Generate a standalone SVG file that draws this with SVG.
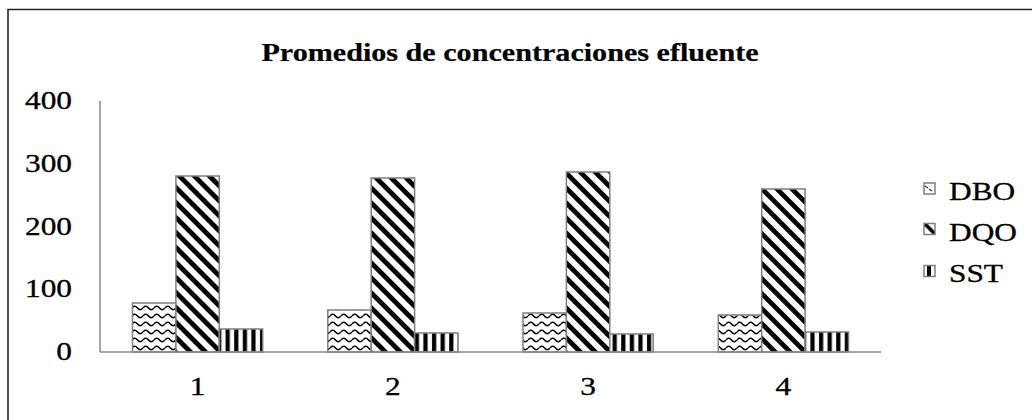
<svg xmlns="http://www.w3.org/2000/svg" width="1032" height="420" viewBox="0 0 1032 420">
  <style>
    text { font-family: 'Liberation Serif', 'Times New Roman', Times, serif; font-size: 24.5px; fill: #000; stroke: #000; stroke-width: 0.3; }
    .title { font-weight: bold; stroke-width: 0.2; }
    .bar { stroke: #7f7f7f; stroke-width: 1.5; }
    .axis { stroke: #888; stroke-width: 1.5; fill: none; }
    .sw { stroke: #7f7f7f; stroke-width: 1.5; }
  </style>
  <defs>
    <pattern id="pWave" patternUnits="userSpaceOnUse" width="11" height="8">
      <rect width="11" height="8" fill="#fff"/>
      <path d="M0,4 Q2.75,0.6 5.5,4 T11,4" stroke="#000" stroke-width="1.5" fill="none"/>
    </pattern>
    <pattern id="pDiag" patternUnits="userSpaceOnUse" width="10.6" height="10.6" patternTransform="rotate(-45)">
      <rect width="10.6" height="10.6" fill="#fff"/>
      <rect x="0" y="0" width="4.8" height="10.6" fill="#000"/>
    </pattern>
    <pattern id="pVert" patternUnits="userSpaceOnUse" width="8.6" height="10">
      <rect width="8.6" height="10" fill="#fff"/>
      <rect x="2" y="0" width="4.2" height="10" fill="#000"/>
    </pattern>
    <pattern id="sWave" patternUnits="userSpaceOnUse" width="11" height="11" x="924" y="183">
      <rect width="11" height="11" fill="#fff"/>
      <path d="M1,3 L4,5 M5,6 L8,8" stroke="#333" stroke-width="1.2"/>
    </pattern>
    <pattern id="sDiag" patternUnits="userSpaceOnUse" width="11" height="11" x="924" y="223.5">
      <rect width="11" height="11" fill="#fff"/>
      <path d="M0,2 L9,11 L11,11 L11,8 L3,0 L0,0 Z" fill="#000"/>
    </pattern>
    <pattern id="sVert" patternUnits="userSpaceOnUse" width="11" height="11" x="924" y="265.5">
      <rect width="11" height="11" fill="#fff"/>
      <rect x="3" y="0" width="4" height="11" fill="#000"/>
    </pattern>
  </defs>

  <rect x="0" y="0" width="1032" height="420" fill="#fff"/>

  <g id="frame">
    <path d="M8,420 L8,9.5 L1032,9.5" stroke="#262626" stroke-width="1.6" fill="none"/>
  </g>

  <g id="title">
    <text class="title" text-anchor="middle" transform="translate(510,61) scale(1.23,1.04)">Promedios de concentraciones efluente</text>
  </g>

  <g id="y-axis-labels" text-anchor="end">
    <text transform="translate(72,109) scale(1.28,1)">400</text>
    <text transform="translate(72,172) scale(1.28,1)">300</text>
    <text transform="translate(72,234.5) scale(1.28,1)">200</text>
    <text transform="translate(72,297.3) scale(1.28,1)">100</text>
    <text transform="translate(72,360) scale(1.28,1)">0</text>
  </g>

  <g id="series-bars">
    <g id="group-1">
      <rect class="bar" x="132.5" y="303" width="43.4" height="49" fill="url(#pWave)"/>
      <rect class="bar" x="175.9" y="176" width="43.4" height="176" fill="url(#pDiag)"/>
      <rect class="bar" x="219.3" y="329" width="43.4" height="23" fill="url(#pVert)"/>
    </g>
    <g id="group-2">
      <rect class="bar" x="327.8" y="310" width="43.4" height="42" fill="url(#pWave)"/>
      <rect class="bar" x="371.2" y="178" width="43.4" height="174" fill="url(#pDiag)"/>
      <rect class="bar" x="414.6" y="333" width="43.4" height="19" fill="url(#pVert)"/>
    </g>
    <g id="group-3">
      <rect class="bar" x="523" y="313" width="43.4" height="39" fill="url(#pWave)"/>
      <rect class="bar" x="566.4" y="172" width="43.4" height="180" fill="url(#pDiag)"/>
      <rect class="bar" x="609.8" y="334" width="43.4" height="18" fill="url(#pVert)"/>
    </g>
    <g id="group-4">
      <rect class="bar" x="718.3" y="315" width="43.4" height="37" fill="url(#pWave)"/>
      <rect class="bar" x="761.7" y="189" width="43.4" height="163" fill="url(#pDiag)"/>
      <rect class="bar" x="805.1" y="332" width="43.4" height="20" fill="url(#pVert)"/>
    </g>
  </g>

  <g id="axes">
    <line class="axis" x1="100" y1="101" x2="100" y2="352"/>
    <line class="axis" x1="100" y1="352" x2="881" y2="352"/>
  </g>

  <g id="x-axis-labels" text-anchor="middle">
    <text transform="translate(197.6,395) scale(1.28,1)">1</text>
    <text transform="translate(392.9,395) scale(1.28,1)">2</text>
    <text transform="translate(588.1,395) scale(1.28,1)">3</text>
    <text transform="translate(783.4,395) scale(1.28,1)">4</text>
  </g>

  <g id="legend">
    <g id="legend-dbo">
      <rect class="sw" x="924" y="183" width="11" height="11" fill="url(#sWave)"/>
      <text transform="translate(949,199.5) scale(1.28,1)">DBO</text>
    </g>
    <g id="legend-dqo">
      <rect class="sw" x="924" y="223.5" width="11" height="11" fill="url(#sDiag)"/>
      <text transform="translate(949,240.5) scale(1.28,1)">DQO</text>
    </g>
    <g id="legend-sst">
      <rect class="sw" x="924" y="265.5" width="11" height="11" fill="url(#sVert)"/>
      <text transform="translate(949,282) scale(1.28,1)">SST</text>
    </g>
  </g>
</svg>
